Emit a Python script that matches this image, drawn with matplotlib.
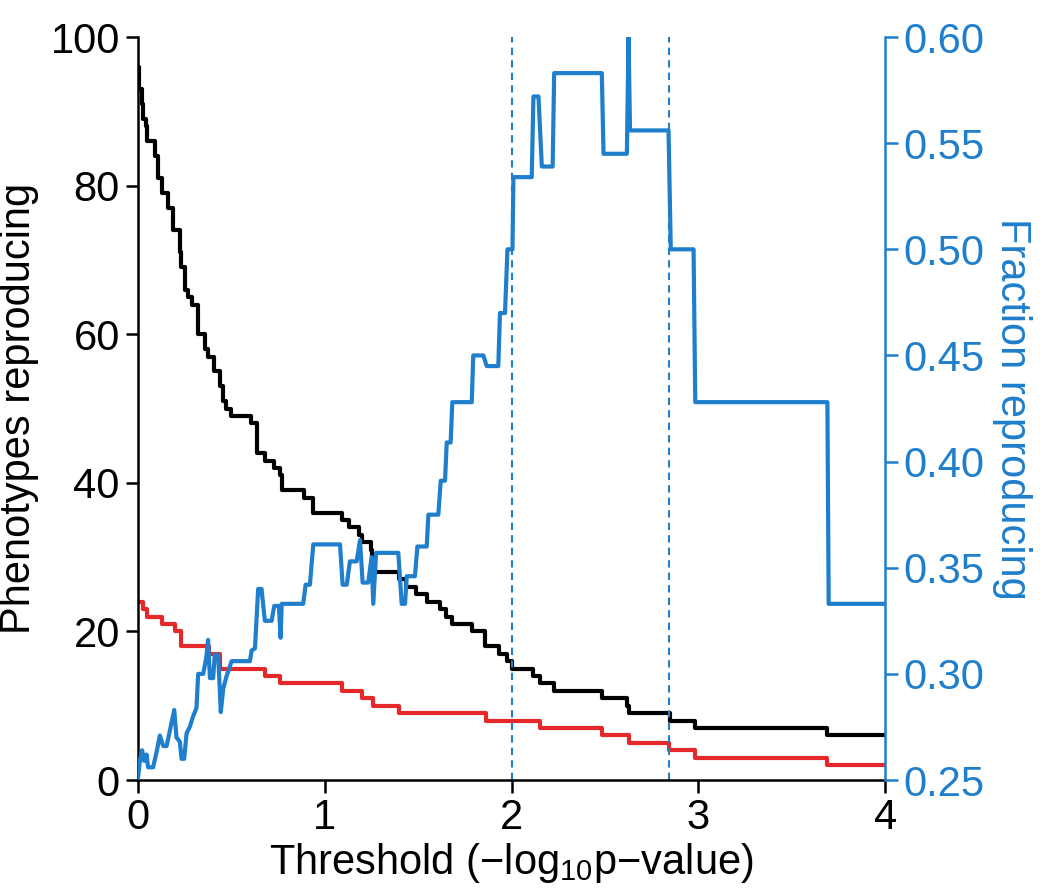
import matplotlib
matplotlib.use('Agg')
from matplotlib import pyplot as plt

# phenotypes reproducing (black), counted at each threshold step
black_x = [0, 0.005, 0.02, 0.03, 0.045, 0.05, 0.09, 0.11, 0.13, 0.16, 0.19, 0.225, 0.23, 0.255, 0.27,
           0.29, 0.32, 0.36, 0.375, 0.41, 0.44, 0.455, 0.47, 0.50, 0.605, 0.64, 0.68, 0.73, 0.76, 0.77,
           0.89, 0.935, 1.09, 1.13, 1.185, 1.20, 1.25, 1.255, 1.27, 1.40, 1.435, 1.49, 1.55, 1.615,
           1.65, 1.68, 1.79, 1.86, 1.935, 1.975, 2.005, 2.115, 2.15, 2.225, 2.485, 2.62, 2.63, 2.85,
           2.98, 3.69, 4.0]
black_y = [96, 93, 91, 89, 88, 86, 84, 81, 79, 77, 74, 71, 69, 66, 65,
           64, 60, 58, 57, 55, 53, 51, 50, 49, 48, 44, 43, 42, 41, 39,
           38, 36, 35, 34, 33, 32, 31, 30, 28, 27, 26, 25, 24, 23,
           22, 21, 20, 18, 17, 16, 15, 14, 13, 12, 11, 10, 9, 8,
           7, 6, 6]

# red series
red_x = [0, 0.03, 0.05, 0.13, 0.20, 0.23, 0.38, 0.44, 0.68, 0.76, 1.09, 1.20, 1.26, 1.40,
         1.865, 2.15, 2.485, 2.63, 2.845, 2.98, 3.69, 4.0]
red_y = [24, 23, 22, 21, 20, 18, 17, 15, 14, 13, 12, 11, 10, 9,
         8, 7, 6, 5, 4, 3, 2, 2]

# fraction reproducing (blue, right axis)
frac_x = [0, 0.011, 0.023, 0.034, 0.047, 0.055, 0.082, 0.10, 0.118, 0.136, 0.154, 0.171, 0.195,
          0.207, 0.225, 0.234, 0.248, 0.261, 0.278, 0.296, 0.314, 0.323, 0.35, 0.367, 0.376, 0.386,
          0.403, 0.412, 0.43, 0.444, 0.457, 0.475, 0.502, 0.60, 0.609, 0.627, 0.644, 0.662, 0.68,
          0.716, 0.73, 0.755, 0.764, 0.77, 0.885, 0.898, 0.921, 0.939, 1.082, 1.096, 1.118, 1.135,
          1.171, 1.189, 1.203, 1.233, 1.251, 1.26, 1.275, 1.394, 1.412, 1.43, 1.439, 1.483, 1.496,
          1.546, 1.555, 1.608, 1.621, 1.644, 1.653, 1.674, 1.683, 1.787, 1.795, 1.849, 1.867, 1.929,
          1.938, 1.965, 1.978, 2.005, 2.01, 2.108, 2.117, 2.144, 2.162, 2.22, 2.228, 2.483, 2.492,
          2.617, 2.626, 2.634, 2.84, 2.852, 2.974, 2.983, 3.69, 3.697, 4.0]
frac_y = [0.25, 0.259, 0.264, 0.259, 0.262, 0.256, 0.256, 0.263, 0.271, 0.266, 0.266, 0.273, 0.283,
          0.270, 0.268, 0.260, 0.260, 0.272, 0.275, 0.280, 0.284, 0.300, 0.300, 0.308, 0.316, 0.298,
          0.298, 0.309, 0.309, 0.282, 0.293, 0.299, 0.306, 0.306, 0.311, 0.312, 0.340, 0.340, 0.325,
          0.325, 0.332, 0.332, 0.317, 0.333, 0.333, 0.342, 0.342, 0.361, 0.361, 0.342, 0.342, 0.353,
          0.353, 0.363, 0.343, 0.343, 0.355, 0.333, 0.357, 0.357, 0.333, 0.333, 0.346, 0.346, 0.36,
          0.36, 0.375, 0.375, 0.391, 0.391, 0.409, 0.409, 0.428, 0.428, 0.45, 0.45, 0.445, 0.445,
          0.47, 0.47, 0.50, 0.50, 0.534, 0.534, 0.572, 0.572, 0.539, 0.539, 0.583, 0.583, 0.545,
          0.545, 0.60, 0.556, 0.556, 0.50, 0.50, 0.428, 0.428, 0.333, 0.333]

cutoffs = [2.0, 2.84]

blue = '#1f7fcc'
red = '#e5292b'

plt.rcParams['font.family'] = ['Liberation Sans', 'DejaVu Sans']
plt.rcParams['font.size'] = 30
plt.rcParams['mathtext.fontset'] = 'custom'
plt.rcParams['mathtext.rm'] = 'Liberation Sans'

fig = plt.figure(figsize=(10.44, 8.88), dpi=100)
ax = fig.add_axes([0.132, 0.1216, 0.716, 0.8367])

ax.step(black_x, black_y, where='post', color='black', lw=3)
ax.step(red_x, red_y, where='post', color=red, lw=3)
for c in cutoffs:
    ax.axvline(c, color=blue, lw=1.5, ls=(0, (3.5, 2.5)))

ax.set_xlim(0, 4)
ax.set_ylim(0, 100)
ax.set_xticks([0, 1, 2, 3, 4])
ax.set_yticks([0, 20, 40, 60, 80, 100])
ax.spines['top'].set_visible(False)
ax.spines['right'].set_visible(False)
for s in ['left', 'bottom']:
    ax.spines[s].set_linewidth(1.8)
ax.tick_params(length=9, width=1.8, pad=4)
ax.set_xlabel('Threshold (\u2212log$_{10}$p\u2212value)', labelpad=2)
ax.set_ylabel('Phenotypes reproducing', labelpad=8)

ax2 = ax.twinx()
ax2.plot(frac_x, frac_y, color=blue, lw=3)
ax2.set_ylim(0.25, 0.60)
ax2.set_yticks([0.25, 0.30, 0.35, 0.40, 0.45, 0.50, 0.55, 0.60])
ax2.set_yticklabels(['%.2f' % v for v in [0.25, 0.30, 0.35, 0.40, 0.45, 0.50, 0.55, 0.60]])
for s in ['top', 'left', 'bottom']:
    ax2.spines[s].set_visible(False)
ax2.spines['right'].set_color(blue)
ax2.spines['right'].set_linewidth(1.8)
ax2.tick_params(axis='y', colors=blue, length=9, width=1.8, pad=4)
ax2.set_ylabel('Fraction reproducing', color=blue, rotation=270, labelpad=34)

plt.savefig('out.png', dpi=100)
